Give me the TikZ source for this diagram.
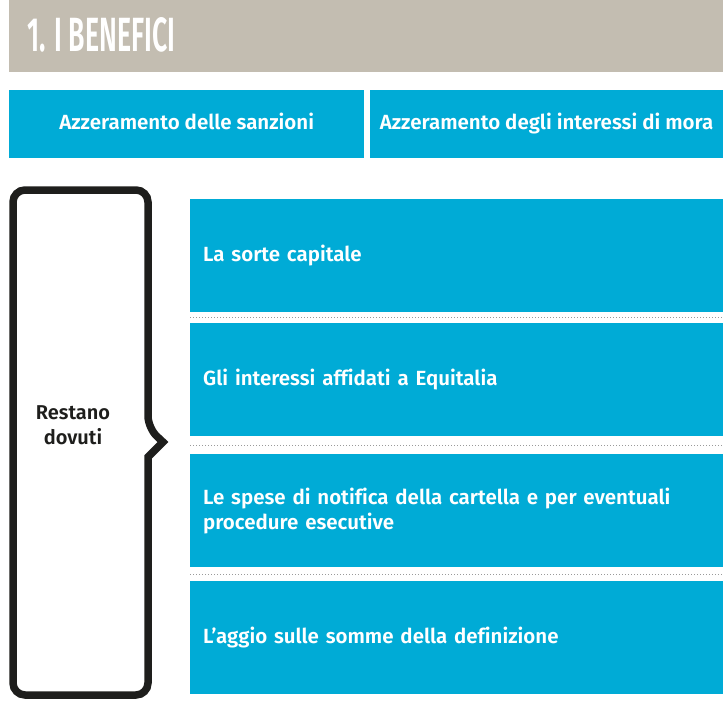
\documentclass[tikz,border=0pt]{standalone}
\usepackage{fontspec}
\setmainfont{Fira Sans}[BoldFont={Fira Sans SemiBold},Ligatures=CommonOff]
\usepackage{graphicx}
\usetikzlibrary{calc,positioning}
\definecolor{BenefitBlue}{HTML}{00ABD6}
\definecolor{HeadGray}{HTML}{C3BDB1}
\definecolor{Ink}{HTML}{1E1E1C}
\definecolor{DotGray}{HTML}{9A9A9A}

\begin{document}
\begin{tikzpicture}[x=1pt,y=-1pt,
  head/.style={fill=HeadGray,inner sep=0pt,anchor=north west,minimum width=714pt,minimum height=72pt},
  topbox/.style={fill=BenefitBlue,text=white,font=\fontsize{20.5}{25}\selectfont\bfseries,inner sep=0pt,anchor=north west,minimum height=68pt,text height=15pt,text depth=5pt},
  itembox/.style={fill=BenefitBlue,text=white,font=\fontsize{20.5}{25}\selectfont\bfseries,anchor=north west,minimum width=533pt,minimum height=113pt,text width=507pt,inner xsep=13pt,inner ysep=0pt,align=left},
  sep/.style={draw=DotGray,line width=1pt,dotted},
  bracket/.style={draw=Ink,line width=7.5pt,line join=miter},
  duetext/.style={text=Ink,font=\fontsize{20}{25}\selectfont\bfseries,align=center}
]
\useasboundingbox (0,0) rectangle (723,712);
% header
\node[head] (head) at (9,0) {};
\node[text=white,anchor=west,inner sep=0pt] (title) at (27,35) {\resizebox{148pt}{34pt}{\bfseries 1. I BENEFICI}};

% top row
\node[topbox,minimum width=355pt] (zero1) at (9,90) {Azzeramento delle sanzioni};
\node[topbox,minimum width=354pt,right=5pt of zero1] (zero2) {Azzeramento degli interessi di mora};

% what is still due
\foreach \n/\y/\t in {item1/199/{La sorte capitale},
                      item2/323/{Gli interessi affidati a Equitalia},
                      item3/454/{Le spese di notifica della cartella e per eventuali\\procedure esecutive},
                      item4/581/{L’aggio sulle somme della definizione}}
  \node[itembox] (\n) at (190,\y) {\t};
\foreach \a/\b in {item1/item2,item2/item3,item3/item4}
  \draw[sep] ($(\a.south west)!0.5!(\b.north west)$) -- ($(\a.south east)!0.5!(\b.north east)$);

% bracket
\node[duetext] (due) at (73,425) {Restano\\dovuti};
\draw[bracket,rounded corners=12pt] (13,442) -- (13,190) -- (148,190) -- (148,428) [sharp corners] -- (163,442) -- (148,457) [rounded corners=12pt] -- (148,695) -- (13,695) -- cycle;
\end{tikzpicture}
\end{document}
